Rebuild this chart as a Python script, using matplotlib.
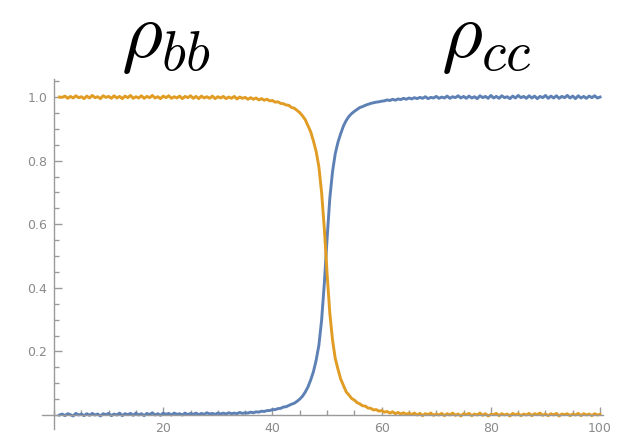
import numpy as np
import matplotlib
matplotlib.use("Agg")
import matplotlib.pyplot as plt
from matplotlib.ticker import MultipleLocator, FixedLocator

plt.rcParams["mathtext.fontset"] = "cm"

# time axis: 1 .. 100 in steps of 0.5
x = np.arange(1.0, 100.01, 0.5)

# rho_bb (orange)
rho_bb = [
    1.000, 0.999, 1.003, 0.996, 1.002, 0.997, 1.004, 0.998, 1.001, 0.995,
    1.003, 0.997, 1.005, 0.998, 1.001, 0.995, 1.004, 0.999, 1.002, 0.996,
    1.004, 0.997, 1.002, 0.995, 1.003, 0.998, 1.005, 0.996, 1.001, 0.997,
    1.004, 0.996, 1.002, 0.998, 1.005, 0.997, 1.001, 0.995, 1.003, 0.998,
    1.004, 0.996, 1.001, 0.997, 1.003, 0.995, 1.002, 0.998, 1.004, 0.996,
    1.002, 0.995, 1.003, 0.997, 1.001, 0.996, 1.003, 0.995, 1.001, 0.997,
    1.002, 0.995, 1.000, 0.996, 1.002, 0.994, 1.000, 0.996, 0.999, 0.993,
    0.998, 0.993, 0.997, 0.991, 0.995, 0.990, 0.993, 0.988, 0.989, 0.984,
    0.985, 0.980, 0.979, 0.975, 0.974, 0.967, 0.965, 0.958, 0.951, 0.941,
    0.929, 0.910, 0.891, 0.862, 0.829, 0.781, 0.700, 0.586, 0.446, 0.321,
    0.236, 0.178, 0.144, 0.113, 0.093, 0.073, 0.063, 0.052, 0.047, 0.039,
    0.035, 0.029, 0.028, 0.022, 0.021, 0.016, 0.017, 0.012, 0.014, 0.009,
    0.011, 0.006, 0.010, 0.004, 0.008, 0.003, 0.007, 0.002, 0.006, 0.001,
    0.006, 0.000, 0.005, -0.002, 0.004, 0.001, 0.006, -0.001, 0.003, 0.000,
    0.005, -0.002, 0.004, 0.000, 0.006, -0.001, 0.003, -0.003, 0.004, 0.001,
    0.005, -0.002, 0.003, 0.000, 0.006, -0.001, 0.004, -0.003, 0.002, 0.001,
    0.005, -0.002, 0.004, 0.000, 0.003, -0.003, 0.005, 0.000, 0.004, -0.002,
    0.003, 0.000, 0.005, -0.002, 0.004, 0.001, 0.006, -0.001, 0.003, -0.002,
    0.004, 0.000, 0.005, -0.003, 0.003, 0.001, 0.004, -0.002, 0.003, 0.000,
    0.005, -0.002, 0.004, 0.000, 0.003, -0.002, 0.004, 0.000, 0.002,
]

# rho_cc (blue)
rho_cc = [
    0.000, 0.003, -0.002, 0.004, 0.001, -0.003, 0.005, 0.000, 0.003, -0.002,
    0.004, -0.001, 0.005, 0.000, 0.003, -0.003, 0.004, 0.001, 0.005, -0.002,
    0.003, 0.000, 0.006, -0.002, 0.004, 0.001, 0.005, -0.001, 0.006, 0.000,
    0.004, -0.002, 0.005, 0.001, 0.007, 0.000, 0.004, -0.001, 0.006, 0.002,
    0.005, 0.000, 0.006, 0.002, 0.004, 0.000, 0.006, 0.001, 0.005, 0.002,
    0.006, 0.001, 0.005, 0.002, 0.007, 0.003, 0.005, 0.002, 0.006, 0.003,
    0.006, 0.003, 0.007, 0.004, 0.006, 0.004, 0.008, 0.005, 0.007, 0.006,
    0.009, 0.007, 0.010, 0.009, 0.012, 0.011, 0.014, 0.014, 0.017, 0.017,
    0.020, 0.021, 0.025, 0.026, 0.030, 0.034, 0.037, 0.043, 0.050, 0.059,
    0.072, 0.088, 0.110, 0.136, 0.172, 0.219, 0.298, 0.414, 0.553, 0.681,
    0.765, 0.822, 0.858, 0.885, 0.909, 0.926, 0.939, 0.948, 0.955, 0.961,
    0.967, 0.970, 0.974, 0.977, 0.980, 0.982, 0.984, 0.985, 0.987, 0.988,
    0.991, 0.989, 0.993, 0.990, 0.994, 0.992, 0.996, 0.993, 0.997, 0.994,
    0.998, 0.995, 0.999, 0.996, 1.001, 0.995, 0.999, 0.997, 1.002, 0.996,
    1.000, 0.997, 1.003, 0.996, 1.001, 0.998, 1.004, 0.997, 1.002, 0.996,
    1.003, 0.997, 1.001, 0.995, 1.004, 0.998, 1.002, 0.996, 1.005, 0.997,
    1.002, 0.996, 1.004, 0.998, 1.001, 0.995, 1.003, 0.997, 1.005, 0.998,
    1.002, 0.996, 1.004, 0.997, 1.003, 0.995, 1.002, 0.998, 1.005, 0.996,
    1.003, 0.997, 1.004, 0.996, 1.002, 0.998, 1.005, 0.997, 1.003, 0.995,
    1.004, 0.997, 1.002, 0.996, 1.003, 0.998, 1.004, 0.997, 1.000,
]

x_major = [20, 40, 60, 80, 100]
y_major = [0.2, 0.4, 0.6, 0.8, 1.0]

blue = "#5E81B5"
orange = "#E19C24"
axis_gray = "#9a9a9a"
label_gray = "#8a8a8a"

fig = plt.figure(figsize=(6.18, 4.37), dpi=100)
ax = fig.add_axes([0.068, 0.0176, 0.9083, 0.8018])

ax.plot(x, rho_cc, color=blue, lw=2.1, solid_joinstyle="round")
ax.plot(x, rho_bb, color=orange, lw=2.1, solid_joinstyle="round")

ax.set_xlim(-2.2, 100.6)
ax.set_ylim(-0.045, 1.057)

# Mathematica-style axes crossing at the origin
for side in ["top", "right"]:
    ax.spines[side].set_visible(False)
ax.spines["left"].set_position(("data", 0))
ax.spines["bottom"].set_position(("data", 0))
for side in ["left", "bottom"]:
    ax.spines[side].set_color(axis_gray)
    ax.spines[side].set_linewidth(1.0)

ax.xaxis.set_major_locator(FixedLocator(x_major))
ax.xaxis.set_minor_locator(MultipleLocator(5))
ax.yaxis.set_major_locator(FixedLocator(y_major))
ax.yaxis.set_minor_locator(MultipleLocator(0.05))
ax.set_xticklabels([str(v) for v in x_major])
ax.set_yticklabels(["%.1f" % v for v in y_major])

ax.tick_params(which="both", direction="in", color=axis_gray, width=1.0,
               labelcolor=label_gray, labelsize=9)
ax.tick_params(which="major", length=6)
ax.tick_params(which="minor", length=3.5)
ax.tick_params(axis="x", pad=5)
ax.tick_params(axis="y", pad=5)

fig.text(166 / 618, 1 - 38 / 437, r"$\rho_{bb}$", fontsize=57,
         ha="center", va="center")
fig.text(486 / 618, 1 - 38 / 437, r"$\rho_{cc}$", fontsize=57,
         ha="center", va="center")

fig.savefig("out.png", dpi=100)
